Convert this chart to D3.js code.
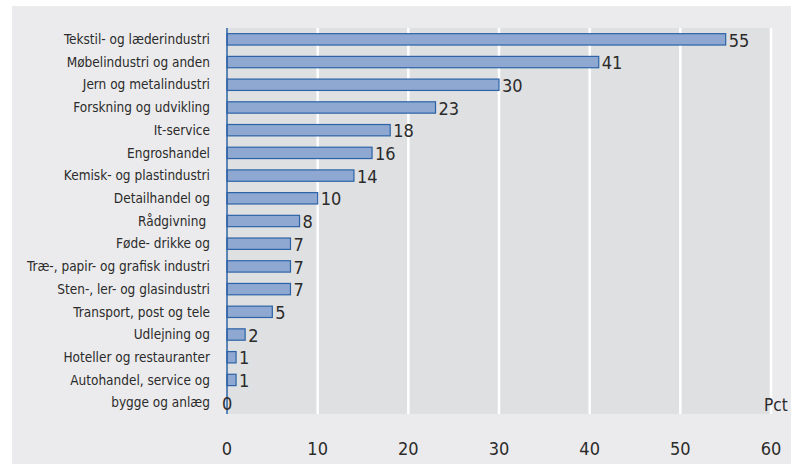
<!DOCTYPE html>
<html>
<head>
<meta charset="utf-8">
<script src="https://cdn.jsdelivr.net/npm/d3@7"></script>
<style>
  body { margin: 0; background: #fff; }
  text { font-family: "Liberation Sans Narrow", "DejaVu Sans Condensed", "Liberation Sans", sans-serif; fill: #2b2b2b; }
</style>
</head>
<body>
<div id="chart"></div>
<script>
const categories = [
  "Tekstil- og læderindustri", "Møbelindustri og anden", "Jern og metalindustri",
  "Forskning og udvikling", "It-service", "Engroshandel", "Kemisk- og plastindustri",
  "Detailhandel og", "Rådgivning ", "Føde- drikke og", "Træ-, papir- og grafisk industri",
  "Sten-, ler- og glasindustri", "Transport, post og tele", "Udlejning og",
  "Hoteller og restauranter", "Autohandel, service og", "bygge og anlæg"
];
const values = [55, 41, 30, 23, 18, 16, 14, 10, 8, 7, 7, 7, 5, 2, 1, 1, 0];
const ticks = [0, 10, 20, 30, 40, 50, 60];
const unit = "Pct";

const width = 794, height = 464;
const margin = {top: 28, right: 23, bottom: 50, left: 227};

const svg = d3.select("#chart").append("svg")
    .attr("width", width)
    .attr("height", height);

// outer panel
svg.append("rect")
    .attr("x", 12).attr("y", 6)
    .attr("width", 779).attr("height", height - 6)
    .style("fill", "#ebebed");

const x = d3.scaleLinear()
    .domain([0, 60])
    .range([margin.left, width - margin.right]);

const y = d3.scaleBand()
    .domain(categories)
    .range([margin.top, height - margin.bottom])
    .paddingInner(0.5)
    .paddingOuter(0.25);

// plot area
svg.append("rect")
    .attr("x", x(0)).attr("y", margin.top)
    .attr("width", x(60) - x(0)).attr("height", height - margin.bottom - margin.top)
    .style("fill", "#dfe0e2");

// gridlines
svg.append("g")
  .selectAll("line")
  .data(ticks.slice(1))
  .enter().append("line")
    .attr("x1", d => x(d)).attr("x2", d => x(d))
    .attr("y1", margin.top).attr("y2", height - margin.bottom)
    .style("stroke", "white")
    .style("stroke-width", 2.5);

// bars
svg.append("g")
  .selectAll("rect")
  .data(values)
  .enter().append("rect")
    .attr("x", x(0))
    .attr("y", (d, i) => y(categories[i]))
    .attr("width", d => x(d) - x(0))
    .attr("height", y.bandwidth())
    .style("fill", "#8ea8d1")
    .style("stroke", "#2c63a6")
    .style("stroke-width", 1.2);

// axis line
svg.append("line")
    .attr("x1", x(0)).attr("x2", x(0))
    .attr("y1", margin.top).attr("y2", height - margin.bottom)
    .style("stroke", "#2c63a6")
    .style("stroke-width", 1.5);

// category labels
svg.append("g")
  .selectAll("text")
  .data(categories)
  .enter().append("text")
    .attr("x", 210)
    .attr("y", d => y(d) + y.bandwidth() / 2)
    .attr("dy", "0.35em")
    .attr("text-anchor", "end")
    .style("font-size", "13.5px")
    .style("white-space", "pre")
    .text(d => d);

// value labels
svg.append("g")
  .selectAll("text")
  .data(values)
  .enter().append("text")
    .attr("x", d => d === 0 ? x(0) - 5 : x(d) + 3)
    .attr("y", (d, i) => y(categories[i]) + y.bandwidth() / 2)
    .attr("dy", "0.4em")
    .style("font-size", "18px")
    .text(d => d);

// x tick labels
svg.append("g")
  .selectAll("text")
  .data(ticks)
  .enter().append("text")
    .attr("x", d => x(d))
    .attr("y", 455)
    .attr("text-anchor", "middle")
    .style("font-size", "18px")
    .text(d => d);

svg.append("text")
    .attr("x", 764)
    .attr("y", 411)
    .style("font-size", "17px")
    .text(unit);
</script>
</body>
</html>
